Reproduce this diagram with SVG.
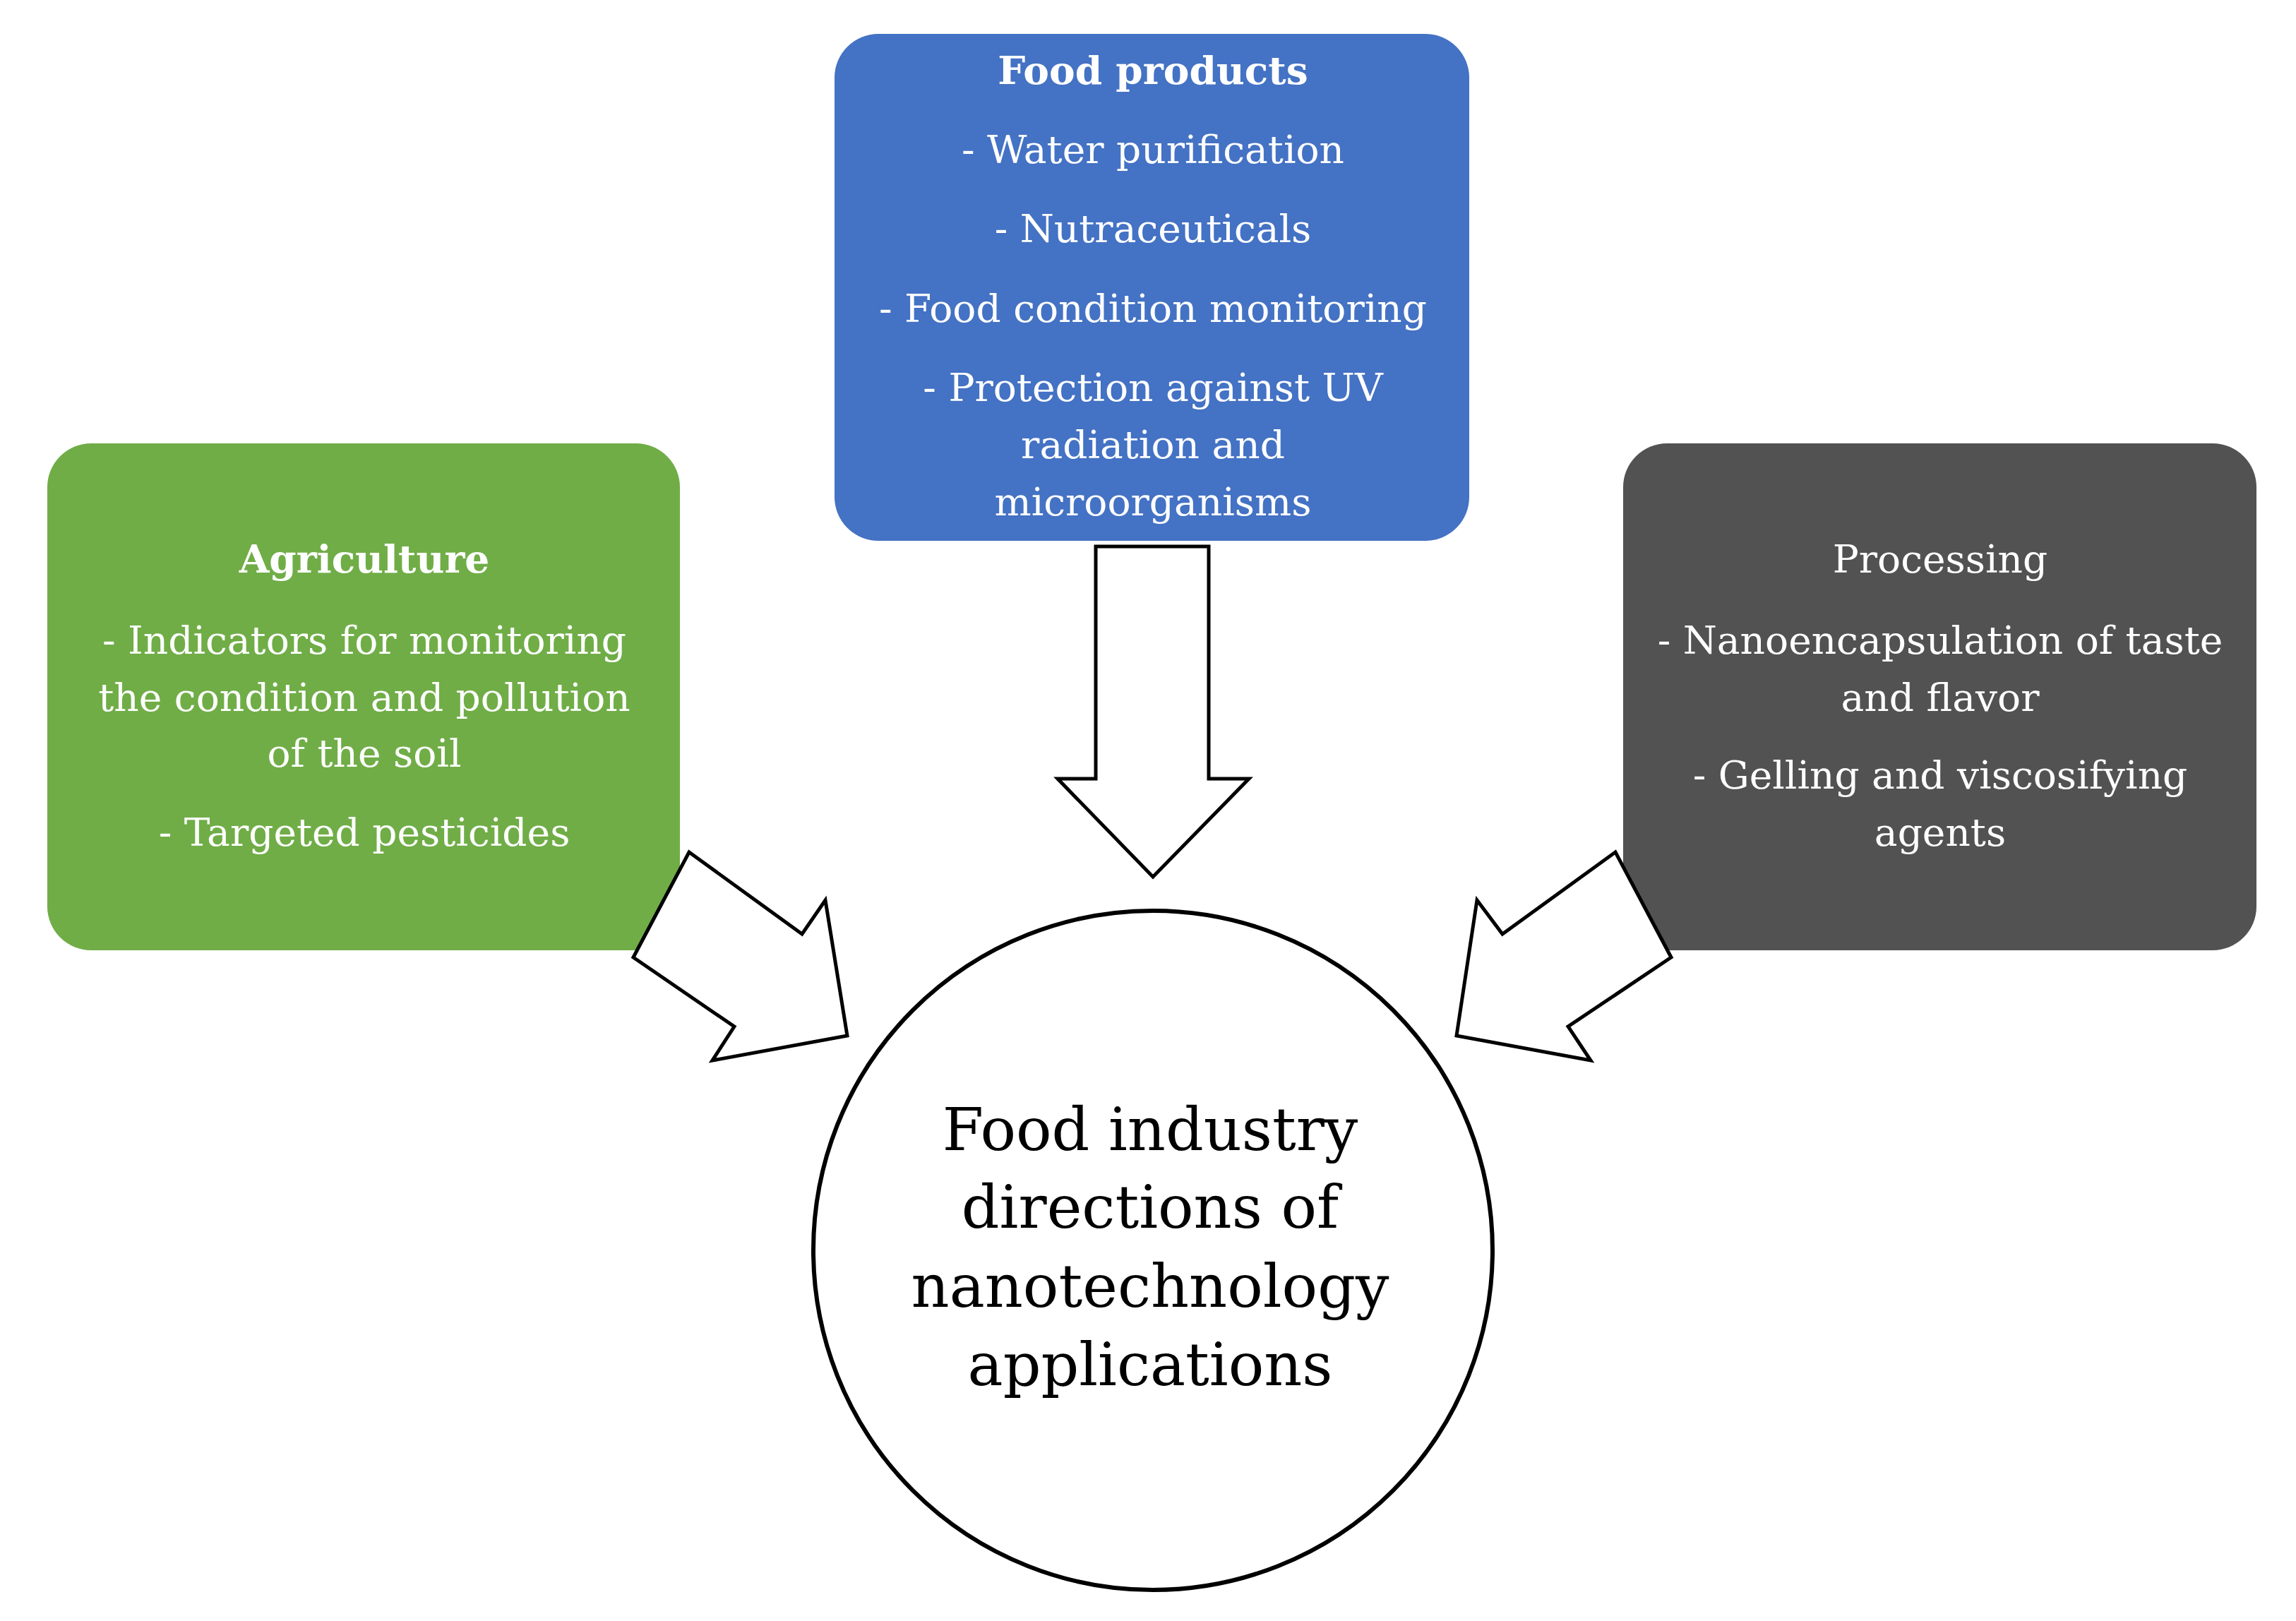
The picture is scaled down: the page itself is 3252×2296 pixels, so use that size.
<svg xmlns="http://www.w3.org/2000/svg" width="3252" height="2296" viewBox="0 0 3252 2296">
<style>
text{font-family:"DejaVu Serif","Liberation Serif",serif;text-anchor:middle;fill:#fff;font-size:55px}
.b{font-weight:bold}
.c{fill:#000;font-size:84px}
.arr{fill:#fff;stroke:#000;stroke-width:5;stroke-linejoin:miter}
</style>
<rect width="3252" height="2296" fill="#fff"/>
<g id="food-products">
<rect x="1182" y="48" width="899" height="718" rx="62" fill="#4472C4"/>
<text x="1633" y="119" class="b">Food products</text>
<text x="1633" y="231">- Water purification</text>
<text x="1633" y="343">- Nutraceuticals</text>
<text x="1633" y="456">- Food condition monitoring</text>
<text x="1633" y="568">- Protection against UV</text>
<text x="1633" y="649">radiation and</text>
<text x="1633" y="730">microorganisms</text>
</g>
<g id="agriculture">
<rect x="67" y="628" width="896" height="718" rx="62" fill="#70AD47"/>
<text x="516" y="811" class="b">Agriculture</text>
<text x="516" y="926">- Indicators for monitoring</text>
<text x="516" y="1007">the condition and pollution</text>
<text x="516" y="1086">of the soil</text>
<text x="516" y="1198">- Targeted pesticides</text>
</g>
<g id="processing">
<rect x="2299" y="628" width="897" height="718" rx="62" fill="#525252"/>
<text x="2748" y="811">Processing</text>
<text x="2748" y="926">- Nanoencapsulation of taste</text>
<text x="2748" y="1007">and flavor</text>
<text x="2748" y="1117">- Gelling and viscosifying</text>
<text x="2748" y="1198">agents</text>
</g>
<g id="center">
<circle cx="1633" cy="1771" r="481" fill="#fff" stroke="#000" stroke-width="6"/>
<text class="c" x="1629" y="1629">Food industry</text>
<text class="c" x="1629" y="1739">directions of</text>
<text class="c" x="1629" y="1851">nanotechnology</text>
<text class="c" x="1629" y="1962">applications</text>
</g>
<g id="connectors">
<polygon class="arr" points="1552,774 1712,774 1712,1103 1769,1103 1633,1242 1498,1103 1552,1103"/>
<polygon class="arr" points="976,1207 1136,1323 1169,1275 1200,1467 1009,1502 1040,1454 897,1356"/>
<polygon class="arr" points="2288,1207 2128,1323 2092,1275 2063,1467 2253,1502 2221,1454 2367,1356"/>
</g>
</svg>
